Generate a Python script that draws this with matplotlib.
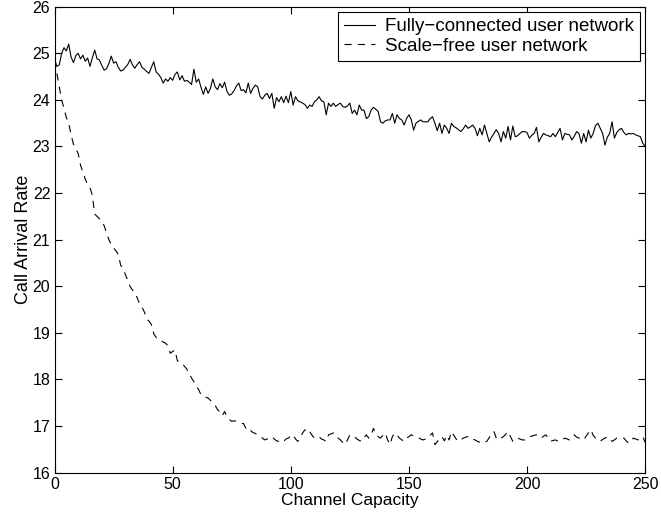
import numpy as np
import matplotlib
matplotlib.use('Agg')
import matplotlib.pyplot as plt

plt.rcParams['font.family'] = ['Liberation Sans', 'DejaVu Sans']

# channel capacity 0..250
capacity = list(range(0, 251))

# call arrival rate, fully-connected user network
fully_connected = [
    24.88, 24.72, 24.75, 25.00, 25.12, 25.05, 25.20, 24.92, 24.80, 24.95,
    25.00, 24.88, 24.96, 24.83, 24.90, 24.72, 24.90, 25.07, 24.88, 24.86,
    24.74, 24.64, 24.67, 24.78, 24.94, 24.79, 24.82, 24.70, 24.62, 24.64,
    24.70, 24.76, 24.87, 24.75, 24.68, 24.76, 24.82, 24.70, 24.66, 24.61,
    24.57, 24.70, 24.82, 24.60, 24.55, 24.48, 24.36, 24.45, 24.40, 24.48,
    24.42, 24.55, 24.60, 24.43, 24.52, 24.40, 24.42, 24.38, 24.33, 24.66,
    24.38, 24.45, 24.27, 24.12, 24.28, 24.14, 24.25, 24.45, 24.28, 24.22,
    24.35, 24.26, 24.38, 24.18, 24.10, 24.13, 24.20, 24.30, 24.36, 24.20,
    24.22, 24.15, 24.36, 24.14, 24.25, 24.32, 24.28, 24.07, 24.02, 24.10,
    24.14, 24.03, 24.14, 23.82, 24.05, 23.96, 24.07, 23.94, 24.08, 23.94,
    24.18, 23.89, 24.07, 23.98, 23.96, 23.93, 23.90, 23.82, 23.89, 23.86,
    23.96, 24.00, 24.07, 23.98, 23.96, 23.68, 23.93, 23.86, 23.93, 23.86,
    23.90, 23.93, 23.86, 23.84, 23.87, 23.93, 23.71, 23.78, 23.68, 23.89,
    23.78, 23.78, 23.60, 23.64, 23.78, 23.84, 23.80, 23.75, 23.53, 23.50,
    23.55, 23.57, 23.57, 23.71, 23.50, 23.68, 23.60, 23.57, 23.46, 23.60,
    23.68, 23.58, 23.35, 23.50, 23.54, 23.57, 23.53, 23.53, 23.53, 23.60,
    23.64, 23.50, 23.34, 23.50, 23.28, 23.46, 23.39, 23.28, 23.50, 23.43,
    23.40, 23.36, 23.32, 23.38, 23.46, 23.39, 23.42, 23.46, 23.39, 23.23,
    23.39, 23.25, 23.46, 23.28, 23.10, 23.20, 23.28, 23.36, 23.28, 23.10,
    23.32, 23.18, 23.43, 23.14, 23.44, 23.21, 23.23, 23.28, 23.32, 23.32,
    23.30, 23.18, 23.24, 23.28, 23.41, 23.10, 23.20, 23.28, 23.25, 23.23,
    23.21, 23.28, 23.21, 23.30, 23.39, 23.14, 23.28, 23.26, 23.25, 23.14,
    23.22, 23.32, 23.28, 23.07, 23.28, 23.10, 23.35, 23.18, 23.28, 23.45,
    23.50, 23.39, 23.28, 23.03, 23.20, 23.28, 23.53, 23.18, 23.30, 23.36,
    23.39, 23.30, 23.25, 23.28, 23.27, 23.28, 23.25, 23.23, 23.21, 23.07,
    23.00,
]

# call arrival rate, scale-free user network
scale_free = [
    24.85, 24.57, 24.29, 24.00, 23.82, 23.62, 23.50, 23.25, 23.05, 22.95,
    22.85, 22.60, 22.45, 22.30, 22.18, 22.12, 21.95, 21.55, 21.50, 21.45,
    21.40, 21.30, 21.15, 21.00, 20.90, 20.82, 20.76, 20.68, 20.45, 20.38,
    20.25, 20.12, 19.99, 19.92, 19.86, 19.75, 19.62, 19.55, 19.45, 19.30,
    19.25, 19.18, 18.98, 18.90, 18.88, 18.84, 18.80, 18.78, 18.72, 18.56,
    18.60, 18.63, 18.40, 18.37, 18.35, 18.28, 18.22, 18.12, 18.03, 17.95,
    17.85, 17.78, 17.67, 17.66, 17.62, 17.60, 17.55, 17.48, 17.44, 17.35,
    17.30, 17.22, 17.31, 17.20, 17.14, 17.10, 17.11, 17.10, 17.08, 17.06,
    17.05, 16.95, 16.88, 16.90, 16.86, 16.84, 16.80, 16.77, 16.74, 16.70,
    16.72, 16.75, 16.77, 16.72, 16.68, 16.67, 16.70, 16.67, 16.72, 16.74,
    16.79, 16.81, 16.72, 16.67, 16.74, 16.85, 16.92, 16.85, 16.88, 16.80,
    16.74, 16.76, 16.77, 16.72, 16.70, 16.67, 16.81, 16.83, 16.85, 16.77,
    16.74, 16.70, 16.65, 16.60, 16.70, 16.81, 16.79, 16.77, 16.72, 16.69,
    16.67, 16.75, 16.81, 16.74, 16.80, 16.95, 16.82, 16.77, 16.74, 16.80,
    16.85, 16.70, 16.60, 16.77, 16.85, 16.80, 16.74, 16.70, 16.67, 16.74,
    16.77, 16.81, 16.79, 16.77, 16.75, 16.72, 16.70, 16.72, 16.74, 16.80,
    16.85, 16.60, 16.66, 16.72, 16.77, 16.68, 16.80, 16.70, 16.88, 16.80,
    16.72, 16.67, 16.70, 16.74, 16.76, 16.77, 16.77, 16.72, 16.70, 16.67,
    16.65, 16.63, 16.65, 16.67, 16.75, 16.83, 16.88, 16.74, 16.70, 16.74,
    16.77, 16.82, 16.88, 16.77, 16.67, 16.70, 16.74, 16.72, 16.70, 16.70,
    16.74, 16.77, 16.78, 16.80, 16.81, 16.77, 16.74, 16.78, 16.81, 16.74,
    16.67, 16.69, 16.70, 16.68, 16.67, 16.71, 16.74, 16.72, 16.70, 16.75,
    16.81, 16.76, 16.74, 16.72, 16.70, 16.78, 16.85, 16.92, 16.80, 16.74,
    16.70, 16.67, 16.71, 16.74, 16.77, 16.72, 16.67, 16.70, 16.74, 16.74,
    16.74, 16.74, 16.68, 16.63, 16.68, 16.74, 16.72, 16.70, 16.74, 16.77,
    16.65,
]

x_ticks = [0, 50, 100, 150, 200, 250]
y_ticks = [16, 17, 18, 19, 20, 21, 22, 23, 24, 25, 26]

fig = plt.figure(figsize=(6.61, 5.19), dpi=100)
ax = fig.add_axes([0.0825, 0.0895, 0.8935, 0.8975])

ax.plot(capacity, fully_connected, color='black', linewidth=0.8,
        label='Fully\u2212connected user network')
ax.plot(capacity, scale_free, color='black', linewidth=0.8,
        linestyle=(0, (6.5, 5.5)), label='Scale\u2212free user network')

ax.set_xlim(0, 250)
ax.set_ylim(16, 26)
ax.set_xticks(x_ticks)
ax.set_yticks(y_ticks)
ax.tick_params(direction='in', top=True, right=True, length=5,
               labelsize=11.5, width=0.8, pad=3)
for s in ax.spines.values():
    s.set_linewidth(0.8)

ax.set_xlabel('Channel Capacity', fontsize=12.5, labelpad=1)
ax.set_ylabel('Call Arrival Rate', fontsize=13, labelpad=0)

leg = ax.legend(loc='upper right', fontsize=13.5, fancybox=False,
                edgecolor='black', framealpha=1, handlelength=1.65,
                handletextpad=0.55, borderaxespad=0.3, borderpad=0.3,
                labelspacing=0.15)
leg.get_frame().set_linewidth(0.8)

plt.savefig('out.png', dpi=100)
